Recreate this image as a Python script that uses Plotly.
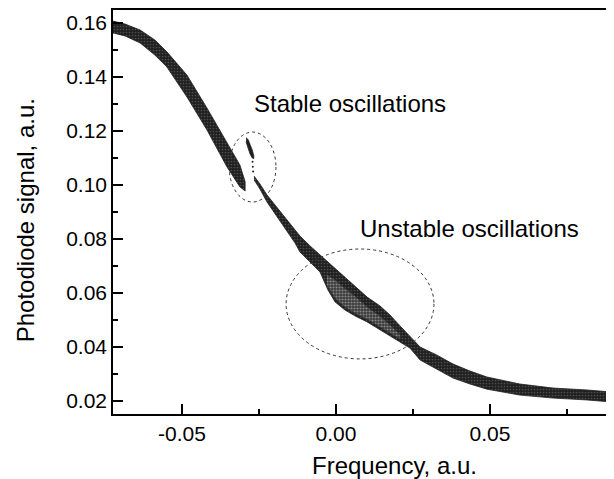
import plotly.graph_objects as go

# ---- data ----
# branch 1 (before the jump)
x1 = [-0.0724, -0.0685, -0.0636, -0.0588, -0.0549, -0.0484, -0.0419, -0.0354, -0.0312, -0.0295]
up1 = [0.1607, 0.1596, 0.1574, 0.1537, 0.1493, 0.1407, 0.1285, 0.1159, 0.1074, 0.1012]
lo1 = [0.1563, 0.1552, 0.1526, 0.1481, 0.1437, 0.1326, 0.1204, 0.1067, 0.0993, 0.0978]

# stable oscillation cluster
xc = [-0.0292, -0.0285, -0.0279, -0.0272, -0.0267]
upc = [0.1175, 0.1168, 0.1150, 0.1130, 0.1108]
loc = [0.1160, 0.1135, 0.1115, 0.1100, 0.1098]
dots_x = [-0.0271, -0.0270, -0.0269]
dots_y = [0.1086, 0.1068, 0.1050]

# branch 2 (after the jump)
x2 = [-0.0266, -0.0247, -0.0224, -0.0198, -0.0166, -0.0133, -0.0117, -0.0084, -0.0052,
      -0.0026, -0.0003, 0.0029, 0.0062, 0.0101, 0.0143, 0.0175, 0.0208, 0.0240, 0.0273,
      0.0328, 0.0380, 0.0435, 0.0490, 0.0597, 0.0705, 0.0815, 0.0899]
up2 = [0.1033, 0.1004, 0.0963, 0.0926, 0.0881, 0.0837, 0.0811, 0.0774, 0.0741,
       0.0715, 0.0693, 0.0659, 0.0626, 0.0585, 0.0552, 0.0519, 0.0478, 0.0441, 0.0400,
       0.0370, 0.0337, 0.0311, 0.0289, 0.0263, 0.0248, 0.0241, 0.0233]
lo2 = [0.1019, 0.0985, 0.0937, 0.0896, 0.0841, 0.0785, 0.0752, 0.0715, 0.0678,
       0.0611, 0.0567, 0.0537, 0.0515, 0.0493, 0.0463, 0.0441, 0.0419, 0.0396, 0.0352,
       0.0318, 0.0285, 0.0263, 0.0244, 0.0222, 0.0211, 0.0204, 0.0196]

# lighter, noisy interior of the unstable region
xb = [-0.0030, -0.0003, 0.0029, 0.0062, 0.0101, 0.0143, 0.0175, 0.0208]
upb = [0.0668, 0.0648, 0.0617, 0.0588, 0.0548, 0.0514, 0.0482, 0.0446]
lob = [0.0630, 0.0580, 0.0548, 0.0525, 0.0503, 0.0473, 0.0452, 0.0430]

# ellipses (x0, x1, y0, y1)
stable_ellipse = [-0.0347, -0.0195, 0.0937, 0.1196]
unstable_ellipse = [-0.0162, 0.0318, 0.0356, 0.0763]

x_ticks = [-0.05, 0.00, 0.05]
x_ticktext = ["-0.05", "0.00", "0.05"]
y_ticks = [0.02, 0.04, 0.06, 0.08, 0.10, 0.12, 0.14, 0.16]
y_ticktext = ["0.02", "0.04", "0.06", "0.08", "0.10", "0.12", "0.14", "0.16"]

FONT = "Liberation Sans, Arial, Helvetica, sans-serif"
DARK = "#202020"


def band(x, up, lo, color, speck, solidity):
    return go.Scatter(x=list(x) + list(x)[::-1], y=list(up) + list(lo)[::-1],
                      fill="toself", fillcolor=color, mode="lines",
                      fillpattern=dict(shape=".", bgcolor=color, fgcolor=speck,
                                       size=3, solidity=solidity),
                      line=dict(color=color, width=0.8), hoverinfo="skip",
                      showlegend=False)


fig = go.Figure()
fig.add_trace(band(x1, up1, lo1, DARK, "#7a7a7a", 0.25))
fig.add_trace(band(xc, upc, loc, DARK, DARK, 0.2))
fig.add_trace(go.Scatter(x=dots_x, y=dots_y, mode="markers",
                         marker=dict(color=DARK, size=2), showlegend=False))
fig.add_trace(band(x2, up2, lo2, DARK, "#7a7a7a", 0.25))
fig.add_trace(band(xb, upb, lob, "#3a3a3a", "#d8d8d8", 0.4))

for e in (stable_ellipse, unstable_ellipse):
    fig.add_shape(type="circle", xref="x", yref="y", x0=e[0], x1=e[1], y0=e[2], y1=e[3],
                  line=dict(color="#333", width=1, dash="dot"))

fig.add_annotation(x=-0.0273, y=0.1302, text="Stable oscillations", showarrow=False,
                   xanchor="left", yanchor="middle", font=dict(size=24, color="black", family=FONT))
fig.add_annotation(x=0.0072, y=0.0839, text="Unstable oscillations", showarrow=False,
                   xanchor="left", yanchor="middle", font=dict(size=24, color="black", family=FONT))

# axis titles (placed as in the reference, which is off-centre)
fig.add_annotation(xref="paper", yref="paper", x=0.564, y=-0.127, text="Frequency, a.u.",
                   showarrow=False, xanchor="center", yanchor="middle",
                   font=dict(size=24, color="black", family=FONT))
fig.add_annotation(xref="paper", yref="paper", x=-0.176, y=0.480, text="Photodiode signal, a.u.",
                   showarrow=False, xanchor="center", yanchor="middle", textangle=-90,
                   font=dict(size=24, color="black", family=FONT))

axis_common = dict(showgrid=False, zeroline=False, showline=True, linecolor="black",
                   linewidth=1.5, mirror=True, ticks="inside", ticklen=10, tickwidth=1.5,
                   tickcolor="black", tickfont=dict(size=21, color="black", family=FONT),
                   automargin=False)

fig.update_xaxes(range=[-0.0724, 0.0896], tickvals=x_ticks, ticktext=x_ticktext,
                 minor=dict(ticks="inside", ticklen=5, tickwidth=1.5, tickcolor="black",
                            dtick=0.025, tick0=0, showgrid=False),
                 **axis_common)
fig.update_yaxes(range=[0.0152, 0.1648], tickvals=y_ticks, ticktext=y_ticktext,
                 minor=dict(ticks="inside", ticklen=5, tickwidth=1.5, tickcolor="black",
                            dtick=0.01, tick0=0, showgrid=False),
                 **axis_common)

# the page adds an 8px body margin, so the figure is sized to fit the window from (8, 8)
fig.update_layout(width=606, height=471, margin=dict(l=105, r=2, t=2, b=65),
                  paper_bgcolor="white", plot_bgcolor="white", showlegend=False,
                  font=dict(family=FONT))

fig.write_html("out.html")
